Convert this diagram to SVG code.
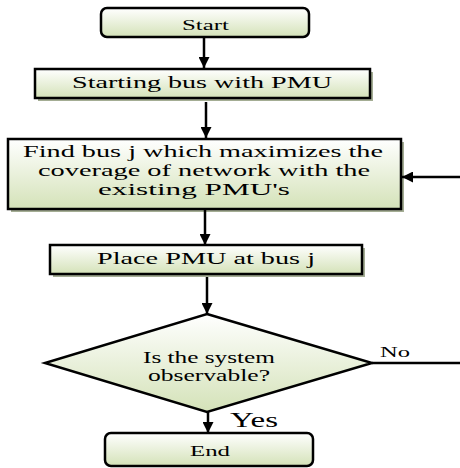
<svg xmlns="http://www.w3.org/2000/svg" width="460" height="468" viewBox="0 0 460 468">
<style>
.box{fill:url(#g);stroke:#000;stroke-width:2.5}
.sh{fill:#a4ad94}
.t{fill:#000;text-anchor:middle;font-family:"Liberation Serif","DejaVu Serif",serif}
.c{stroke:#000;stroke-width:2.5;fill:none}
</style>
<defs>
<linearGradient id="g" x1="0" y1="0" x2="0" y2="1">
<stop offset="0" stop-color="#ffffff"/>
<stop offset="1" stop-color="#d4e2b8"/>
</linearGradient>
<marker id="ah" viewBox="0 0 10 10" refX="10" refY="5" markerWidth="4.4" markerHeight="4.4" orient="auto" markerUnits="strokeWidth">
<path d="M0,0 L10,5 L0,10 z" fill="#000"/>
</marker>
</defs>
<rect width="460" height="468" fill="#fff"/>
<g id="start">
<rect class="box" x="101" y="8" width="208" height="29" rx="6"/>
<text class="t" x="205.5" y="30" font-size="14" textLength="47" lengthAdjust="spacingAndGlyphs">Start</text>
</g>
<g id="starting">
<rect class="sh" x="38" y="72" width="335" height="29"/>
<rect class="box" x="35" y="69" width="335" height="29"/>
<text class="t" x="202" y="88" font-size="17" textLength="260" lengthAdjust="spacingAndGlyphs">Starting bus with PMU</text>
</g>
<g id="find">
<rect class="sh" x="11" y="142" width="393" height="70"/>
<rect class="box" x="8" y="139" width="393" height="70"/>
<text class="t" x="203" y="157" font-size="17.5" textLength="360" lengthAdjust="spacingAndGlyphs">Find bus j which maximizes the</text>
<text class="t" x="204" y="176" font-size="17.5" textLength="332" lengthAdjust="spacingAndGlyphs">coverage of network with the</text>
<text class="t" x="194" y="195" font-size="17.5" textLength="192" lengthAdjust="spacingAndGlyphs">existing PMU's</text>
</g>
<g id="place">
<rect class="sh" x="53" y="248" width="312" height="29"/>
<rect class="box" x="50" y="245" width="312" height="29"/>
<text class="t" x="206" y="264" font-size="17" textLength="218" lengthAdjust="spacingAndGlyphs">Place PMU at bus j</text>
</g>
<g id="decision">
<polygon class="box" points="207,314 372,363 207,412 45,363"/>
<text class="t" x="209" y="362.5" font-size="16" textLength="132" lengthAdjust="spacingAndGlyphs">Is the system</text>
<text class="t" x="209" y="381" font-size="16" textLength="122" lengthAdjust="spacingAndGlyphs">observable?</text>
</g>
<g id="end">
<rect class="box" x="105" y="433" width="208" height="33" rx="6"/>
<text class="t" x="210" y="456" font-size="15.5" textLength="40" lengthAdjust="spacingAndGlyphs">End</text>
</g>
<g id="connectors">
<line class="c" x1="204" y1="37" x2="204" y2="68" marker-end="url(#ah)"/>
<line class="c" x1="206" y1="102" x2="206" y2="138" marker-end="url(#ah)"/>
<line class="c" x1="460" y1="177" x2="402" y2="177" marker-end="url(#ah)"/>
<line class="c" x1="205" y1="210" x2="205" y2="245" marker-end="url(#ah)"/>
<line class="c" x1="207" y1="277" x2="207" y2="314" marker-end="url(#ah)"/>
<line class="c" x1="208" y1="412" x2="208" y2="433" marker-end="url(#ah)"/>
<line class="c" x1="372" y1="363" x2="460" y2="363" stroke-width="1.5"/>
<text class="t" x="395" y="357" font-size="14" textLength="30" lengthAdjust="spacingAndGlyphs">No</text>
<text class="t" x="254" y="427" font-size="20.5" textLength="48" lengthAdjust="spacingAndGlyphs">Yes</text>
</g>
</svg>
